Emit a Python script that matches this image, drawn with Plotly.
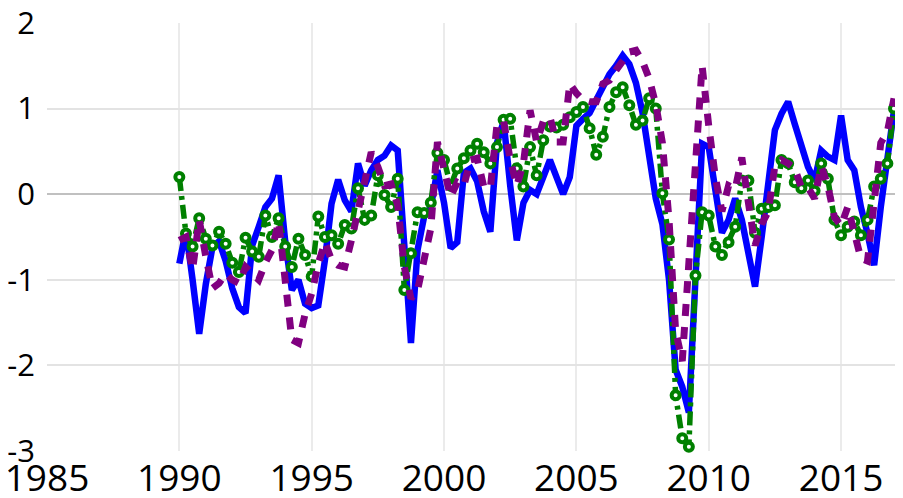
import plotly.graph_objects as go

# Quarterly observations, 1990Q1 .. 2017Q1
years = [1990 + q / 4 for q in range(109)]

blue = [-0.81, -0.42, -1.00, -1.63, -1.05, -0.62, -0.55, -0.78, -1.10, -1.32,
        -1.39, -0.60, -0.38, -0.15, -0.05, 0.22, -0.55, -1.12, -1.00, -1.28,
        -1.33, -1.30, -0.77, -0.11, 0.17, -0.07, -0.20, 0.36, 0.10, 0.28,
        0.40, 0.45, 0.57, 0.51, -0.60, -1.74, -0.65, -0.26, -0.15, 0.28,
        -0.10, -0.63, -0.56, 0.25, 0.30, 0.15, -0.20, -0.44, 0.60, 0.85,
        0.10, -0.54, -0.10, 0.05, 0.00, 0.20, 0.40, 0.20, 0.00, 0.20,
        0.80, 0.88, 0.95, 1.10, 1.25, 1.40, 1.50, 1.62, 1.52, 1.30,
        0.95, 0.45, -0.05, -0.35, -1.00, -2.05, -2.25, -2.55, -0.90, 0.59,
        0.55, 0.10, -0.45, -0.30, -0.05, -0.30, -0.73, -1.08, -0.50, 0.08,
        0.75, 0.94, 1.08, 0.82, 0.55, 0.32, 0.16, 0.51, 0.44, 0.40,
        0.92, 0.40, 0.28, -0.15, -0.46, -0.83, -0.15, 0.47, 0.98]

purple = [-0.54, -0.50, -0.88, -0.30, -0.73, -1.10, -1.04, -0.93, -1.00, -1.04,
          -0.85, -0.93, -1.00, -0.80, -0.65, -0.32, -1.00, -1.70, -1.74, -1.40,
          -1.16, -0.81, -0.56, -0.77, -0.83, -0.85, -0.54, -0.19, 0.20, 0.49,
          0.32, 0.10, 0.12, -0.13, -0.85, -1.22, -1.12, -0.77, -0.40, 0.61,
          0.28, -0.03, 0.14, 0.10, 0.40, 0.42, 0.09, 0.07, 0.81, 0.86,
          0.40, 0.10, 0.36, 0.98, 0.61, 0.85, 0.90, 0.61, 0.61, 1.29,
          1.18, 1.10, 1.08, 1.08, 1.29, 1.33, 1.45, 1.55, 1.66, 1.68,
          1.55, 1.35, 1.05, 0.60, -0.30, -1.60, -1.95, -0.80, 0.35, 1.50,
          0.80, 0.20, -0.20, 0.10, 0.06, 0.43, -0.10, -0.60, -0.35, -0.20,
          0.33, 0.40, 0.36, 0.30, 0.08, 0.08, -0.05, 0.33, 0.10, -0.27,
          -0.37, -0.15, -0.45, -0.75, -0.78, 0.00, 0.60, 0.73, 1.12]

green = [0.20, -0.46, -0.61, -0.28, -0.52, -0.60, -0.44, -0.58, -0.80, -0.91,
         -0.51, -0.67, -0.73, -0.25, -0.50, -0.28, -0.61, -0.85, -0.52, -0.71,
         -0.96, -0.26, -0.50, -0.48, -0.58, -0.36, -0.40, 0.07, -0.30, -0.25,
         0.22, -0.01, -0.15, 0.18, -1.12, -0.69, -0.21, -0.22, -0.10, 0.48,
         0.40, 0.10, 0.30, 0.42, 0.51, 0.59, 0.49, 0.36, 0.55, 0.87,
         0.88, 0.30, 0.09, 0.55, 0.22, 0.63, 0.79, 0.78, 0.81, 0.90,
         0.96, 1.02, 0.77, 0.46, 0.67, 1.02, 1.19, 1.25, 1.04, 0.81,
         0.86, 1.12, 1.00, 0.01, -0.53, -2.35, -2.85, -2.95, -0.95, -0.21,
         -0.25, -0.61, -0.71, -0.56, -0.38, 0.16, 0.16, -0.45, -0.17, -0.15,
         -0.13, 0.40, 0.36, 0.14, 0.07, 0.16, 0.04, 0.36, 0.18, -0.30,
         -0.48, -0.38, -0.32, -0.48, -0.30, 0.09, 0.18, 0.36, 1.00]

x_ticks = [1985, 1990, 1995, 2000, 2005, 2010, 2015]
y_ticks = [-3, -2, -1, 0, 1, 2]

fig = go.Figure()
fig.add_trace(go.Scatter(x=years, y=blue, mode="lines",
                         line=dict(color="#0000FF", width=6.5),
                         showlegend=False, cliponaxis=False))
fig.add_trace(go.Scatter(x=years, y=green, mode="lines+markers",
                         line=dict(color="#008000", width=5.5, dash="14px,5px,4px,5px"),
                         marker=dict(symbol="circle", size=8, color="white",
                                     line=dict(color="#008000", width=4)),
                         showlegend=False, cliponaxis=False))
fig.add_trace(go.Scatter(x=years, y=purple, mode="lines",
                         line=dict(color="#800080", width=7, dash="12px,11px"),
                         showlegend=False, cliponaxis=False))

# the page body adds an 8px offset; the figure is sized to fill the window
fig.update_layout(
    width=895, height=490,
    margin=dict(l=39, r=0, t=15, b=47, autoexpand=False),
    paper_bgcolor="white", plot_bgcolor="white",
    font=dict(family="Open Sans, Liberation Sans, sans-serif", color="black"),
)
fig.update_xaxes(range=[1985, 2017.34], tickvals=x_ticks,
                 ticktext=[str(v) for v in x_ticks], automargin=False,
                 ticklabeloverflow="allow",
                 showgrid=True, gridcolor="#EBEBEB", gridwidth=1.5,
                 zeroline=False, showline=False, ticks="",
                 tickfont=dict(size=37), ticklabelstandoff=2)
fig.update_yaxes(range=[-3, 2], tickvals=y_ticks,
                 ticktext=[str(v) for v in y_ticks], automargin=False,
                 ticklabeloverflow="allow",
                 showgrid=True, gridcolor="#E3E3E3", gridwidth=1.5,
                 zeroline=True, zerolinecolor="#C0C0C0", zerolinewidth=2,
                 showline=False, ticks="",
                 tickfont=dict(size=31), ticklabelstandoff=11)

fig.write_html("out.html")
